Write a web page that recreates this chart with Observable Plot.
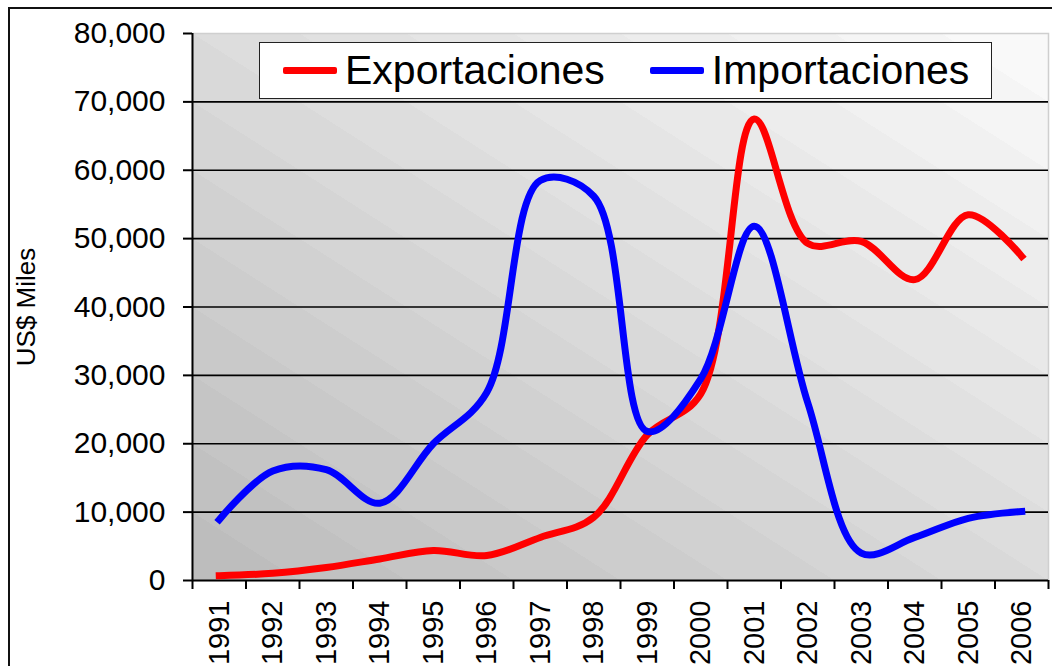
<!DOCTYPE html>
<html>
<head>
<meta charset="utf-8">
<script src="https://cdn.jsdelivr.net/npm/d3@7"></script>
<script src="https://cdn.jsdelivr.net/npm/@observablehq/plot@0.6"></script>
<style>
  html, body { margin: 0; padding: 0; background: #fff; overflow: hidden; }
  body { width: 1052px; height: 666px; position: relative; font-family: "Liberation Sans", Arial, sans-serif; }
  #chart { position: absolute; left: 0; top: 0; }
  #border { position: absolute; left: 8px; top: 7px; width: 1200px; height: 800px; border: 2px solid #111; pointer-events: none; }
  #legend { position: absolute; left: 259px; top: 42px; width: 731px; height: 55px; border: 1.5px solid #222; background: #fff;
            display: flex; align-items: center; font-size: 41px; color: #000; box-sizing: content-box; }
  .sw { width: 54px; height: 7px; border-radius: 2px; margin-right: 8px; }
  .item { display: flex; align-items: center; }
</style>
</head>
<body>
<div id="chart"></div>
<div id="legend">
  <div class="item" style="margin-left:23px"><div class="sw" style="background:#ff0000"></div><span>Exportaciones</span></div>
  <div class="item" style="margin-left:45px"><div class="sw" style="background:#0000ff"></div><span>Importaciones</span></div>
</div>
<div id="border"></div>
<script>
const years = [1991,1992,1993,1994,1995,1996,1997,1998,1999,2000,2001,2002,2003,2004,2005,2006];
const exportaciones = [700,1050,1900,3150,4400,3650,6300,9250,21300,27300,67500,49300,49600,44000,53500,47400];
const importaciones = [8900,16000,16200,11300,20000,27500,58500,56200,21800,29500,51800,26000,4000,6300,9100,10100];
const yTicks = [0,10000,20000,30000,40000,50000,60000,70000,80000];
const seriesNames = ["Exportaciones","Importaciones"];

const boundaries = years.map(y => y - 0.5).concat([years[years.length-1] + 0.5]);
const expData = years.map((y,i) => ({year: y, value: exportaciones[i]}));
const impData = years.map((y,i) => ({year: y, value: importaciones[i]}));

const chart = Plot.plot({
  width: 1052,
  height: 666,
  marginLeft: 192,
  marginRight: 4,
  marginTop: 33,
  marginBottom: 86,
  x: {domain: [boundaries[0], boundaries[boundaries.length-1]]},
  y: {domain: [0, 80000]},
  style: {fontFamily: "'Liberation Sans', Arial, sans-serif", fontSize: "30px", color: "#000", background: "transparent", overflow: "visible"},
  marks: [
    Plot.frame({fill: "url(#bgGrad)", stroke: "#cfcfcf", strokeWidth: 1.5}),
    Plot.gridY(yTicks.filter(v => v > 0 && v < 80000), {stroke: "#000", strokeOpacity: 1, strokeWidth: 1.6}),
    Plot.ruleY([0], {stroke: "#000", strokeWidth: 2}),
    Plot.ruleX([boundaries[0]], {stroke: "#000", strokeWidth: 2}),
    Plot.axisY({ticks: yTicks, tickFormat: d3.format(","), tickSize: 9, tickPadding: 18, fontSize: 30, strokeWidth: 2, label: null}),
    Plot.axisY({ticks: [], label: "US$ Miles", labelArrow: "none", labelAnchor: "center", labelOffset: 176, fontSize: 26}),
    Plot.axisX({ticks: boundaries, tickSize: 9, tickFormat: () => "", strokeWidth: 2, label: null}),
    Plot.axisX({ticks: years, tickSize: 0, tickPadding: 20, tickRotate: -90, tickFormat: d => String(d), fontSize: 29, label: null}),
    Plot.line(expData, {x: "year", y: "value", stroke: "#ff0000", strokeWidth: 7, curve: "catmull-rom", strokeLinecap: "square"}),
    Plot.line(impData, {x: "year", y: "value", stroke: "#0000ff", strokeWidth: 7, curve: "catmull-rom", strokeLinecap: "square"})
  ]
});

// stepped diagonal gradient for the plot background
const ns = "http://www.w3.org/2000/svg";
const defs = document.createElementNS(ns, "defs");
const grad = document.createElementNS(ns, "linearGradient");
grad.setAttribute("id", "bgGrad");
grad.setAttribute("x1", "0"); grad.setAttribute("y1", "1");
grad.setAttribute("x2", "1"); grad.setAttribute("y2", "0");
const N = 16, c0 = 189, c1 = 249;
for (let i = 0; i < N; i++) {
  const c = Math.round(c0 + (c1 - c0) * i / (N - 1));
  const col = `rgb(${c},${c},${c})`;
  for (const off of [i / N, (i + 1) / N]) {
    const s = document.createElementNS(ns, "stop");
    s.setAttribute("offset", off);
    s.setAttribute("stop-color", col);
    grad.appendChild(s);
  }
}
defs.appendChild(grad);
chart.insertBefore(defs, chart.firstChild);
document.getElementById("chart").appendChild(chart);
</script>
</body>
</html>
